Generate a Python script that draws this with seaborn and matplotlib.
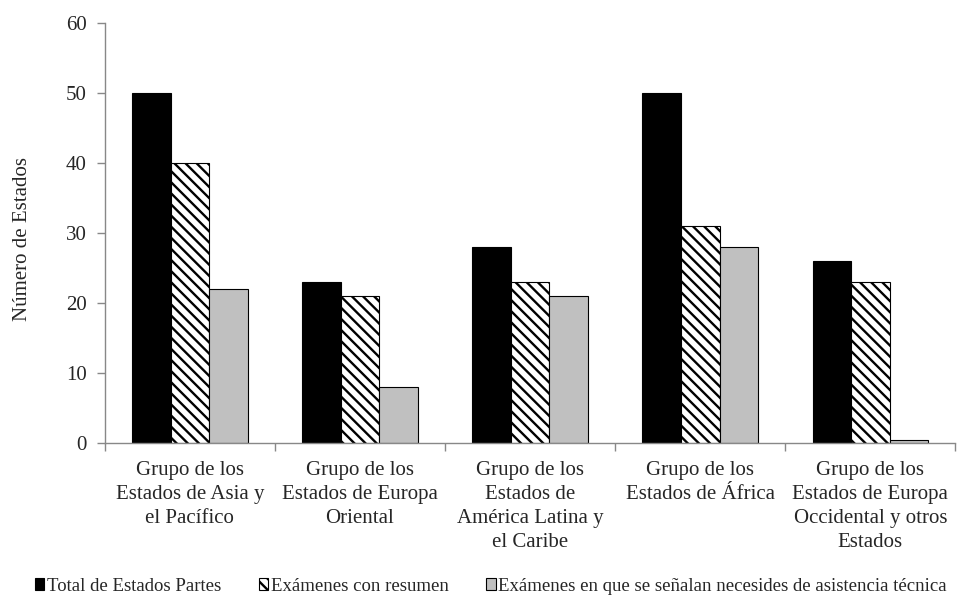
import pandas as pd
import matplotlib.pyplot as plt
import seaborn as sns
import numpy as np

grupos = ["Grupo de los\nEstados de Asia y\nel Pacífico",
          "Grupo de los\nEstados de Europa\nOriental",
          "Grupo de los\nEstados de\nAmérica Latina y\nel Caribe",
          "Grupo de los\nEstados de África",
          "Grupo de los\nEstados de Europa\nOccidental y otros\nEstados"]
series = ["Total de Estados Partes", "Exámenes con resumen",
          "Exámenes en que se señalan necesides de asistencia técnica"]
total = [50, 23, 28, 50, 26]
resumen = [40, 21, 23, 31, 23]
asistencia = [22, 8, 21, 28, 0.5]

df = pd.DataFrame({"grupo": grupos * 3,
                   "serie": np.repeat(series, len(grupos)),
                   "valor": total + resumen + asistencia})

sns.set_style("white")
plt.rcParams['font.family'] = ['Liberation Serif', 'DejaVu Serif']
plt.rcParams['hatch.linewidth'] = 1.7

fig = plt.figure(figsize=(9.7, 5.98), dpi=100)
ax = fig.add_axes([0.108, 0.259, 0.877, 0.7025])

colores = ["black", "white", "#c0c0c0"]
sns.barplot(data=df, x="grupo", y="valor", hue="serie", palette=colores,
            width=0.68, gap=0, edgecolor="black", linewidth=0.8,
            legend=False, ax=ax)
# barras rayadas para la segunda serie
for p in ax.containers[1]:
    p.set_hatch("\\\\\\")

ax.set_ylim(0, 60)
ax.set_xlim(-0.5, 4.5)
ax.set_yticks(range(0, 61, 10))
ax.set_xlabel("")
ax.set_ylabel("Número de Estados", fontsize=15)
ax.yaxis.set_label_coords(-0.086, 0.486)
ax.tick_params(axis="y", labelsize=15, length=6, width=1, color="#888888",
               direction="out", left=True, pad=7)
ax.tick_params(axis="x", which="major", labelsize=15, length=0, pad=13)
for lbl in ax.get_xticklabels():
    lbl.set_linespacing(1.36)
ax.set_xticks(np.arange(-0.5, 5, 1), minor=True)
ax.tick_params(axis="x", which="minor", length=6, width=1, color="#888888",
               direction="out", bottom=True)
for s in ["top", "right"]:
    ax.spines[s].set_visible(False)
for s in ["left", "bottom"]:
    ax.spines[s].set_color("#888888")
    ax.spines[s].set_linewidth(1)

handles = [c[0] for c in ax.containers]
fig.legend(handles, series, loc="center", bbox_to_anchor=(0.506, 0.02),
           ncol=3, frameon=False, fontsize=13.5, handlelength=0.5, handleheight=0.6,
           handletextpad=0.15, columnspacing=2.0, borderpad=0)

plt.savefig("out.png", dpi=100)
